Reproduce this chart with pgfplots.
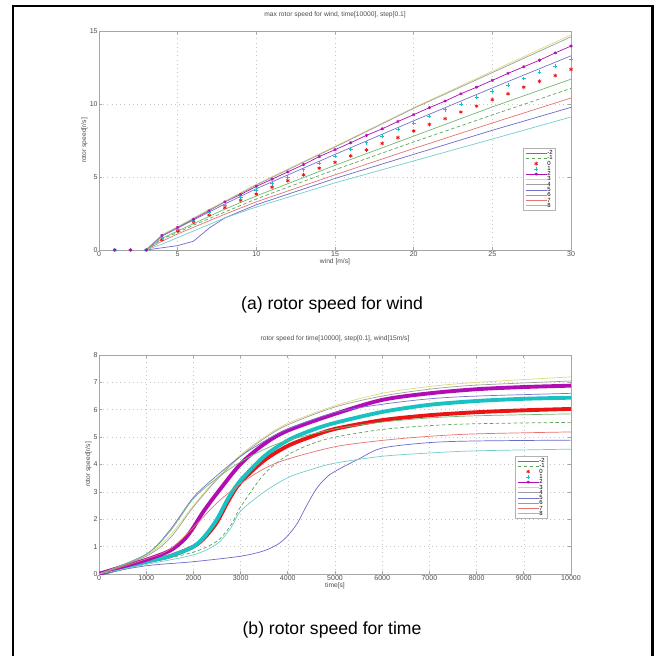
\documentclass[border=0pt]{standalone}
\usepackage{fontspec}
\setmainfont{Liberation Sans}
\setsansfont{Liberation Sans}
\usepackage{pgfplots}
\pgfplotsset{compat=1.18}

\definecolor{cA}{rgb}{0.42,0.42,0.80}  % -2
\definecolor{cB}{rgb}{0.35,0.65,0.35}  % -1
\definecolor{cC}{rgb}{0.92,0.08,0.08}  % 0
\definecolor{cD}{rgb}{0.10,0.76,0.76}  % 1
\definecolor{cE}{rgb}{0.70,0.05,0.70}  % 2
\definecolor{cF}{rgb}{0.86,0.86,0.50}  % 3
\definecolor{cG}{rgb}{0.62,0.62,0.62}  % 4
\definecolor{cH}{rgb}{0.45,0.45,0.82}  % 5
\definecolor{cI}{rgb}{0.45,0.72,0.45}  % 6
\definecolor{cJ}{rgb}{0.90,0.45,0.45}  % 7
\definecolor{cK}{rgb}{0.45,0.80,0.80}  % 8

\pgfplotsset{
  rotor/.style={
    scale only axis, width=9.44cm, height=4.38cm, anchor=south west,
    axis line style={gray!70, line width=0.5pt},
    grid=major, grid style={dotted, gray!45, line width=0.3pt},
    tick style={gray!70, line width=0.4pt}, major tick length=0.06cm,
    tick align=inside,
    tick label style={font=\fontsize{4}{4}\selectfont, text=black!70},
    /pgf/number format/assume math mode=true,
    /pgf/number format/1000 sep={},
    xticklabel style={inner sep=0.6pt}, yticklabel style={inner sep=0.6pt},
    label style={font=\fontsize{3.8}{4}\selectfont, text=black!70},
    xlabel style={inner sep=0.5pt}, ylabel style={inner sep=0.5pt},
    title style={font=\fontsize{3.8}{4}\selectfont, inner sep=1pt, text=black!70},
    legend cell align=left,
    legend style={font=\fontsize{3.4}{3.4}\selectfont, draw=gray!60, line width=0.4pt,
      inner xsep=1.2pt, inner ysep=1.2pt, row sep=0pt,
      nodes={inner sep=0.2pt, text height=2.2pt, text depth=0.4pt}},
    legend image code/.code={\draw[mark repeat=2,mark phase=2,#1]
      plot coordinates {(0cm,0cm) (0.21cm,0cm) (0.42cm,0cm)};},
    every axis plot/.append style={line width=0.4pt},
  },
  mdash/.style={dash pattern=on 2pt off 1.4pt},
}

\begin{document}
\begin{tikzpicture}
\useasboundingbox (0,0) rectangle (13.14,13.10);
\draw[line width=1.7pt] (0.26,-0.3) -- (0.26,12.98) -- (13.04,12.98) -- (13.04,-0.3);

% (a) rotor speed for wind
\begin{axis}[rotor, at={(1.98cm,8.10cm)},
  xmin=0, xmax=30, ymin=0, ymax=15,
  xtick={0,5,...,30}, ytick={0,5,10,15},
  title={max rotor speed for wind, time[10000], step[0.1]},
  xlabel={wind [m/s]}, ylabel={rotor speed[r/s]},
  legend style={at={(0.898,0.466)}, anchor=north west}]
\addplot[cA] coordinates {(3,0) (4,0.15) (5,0.3) (6,0.6) (7,1.5) (8,2.2) (10,3.1) (15,4.9) (20,6.55) (25,8.2) (30,9.77)};
\addplot[cB, mdash] coordinates {(3,0) (4,0.75) (5,1.2) (6,1.7) (8,2.6) (10,3.5) (15,5.5) (20,7.4) (25,9.25) (30,11.07)};
\addplot[cC, only marks, mark=asterisk, mark size=1.1pt] coordinates {
  (1,0) (2,0) (3,0) (4,0.7) (5,1.3) (6,1.9) (7,2.4) (8,2.9) (9,3.4) (10,3.83)
  (11,4.3) (12,4.75) (13,5.15) (14,5.6) (15,6.0) (16,6.45) (17,6.85) (18,7.3) (19,7.7) (20,8.15)
  (21,8.6) (22,9.0) (23,9.45) (24,9.85) (25,10.3) (26,10.7) (27,11.15) (28,11.55) (29,11.95) (30,12.37)};
\addplot[cD, only marks, mark=+, mark size=1.1pt] coordinates {
  (1,0) (2,0) (3,0) (4,0.85) (5,1.4) (6,2.0) (7,2.55) (8,3.05) (9,3.6) (10,4.1)
  (11,4.55) (12,5.0) (13,5.5) (14,5.95) (15,6.42) (16,6.9) (17,7.35) (18,7.8) (19,8.25) (20,8.68)
  (21,9.15) (22,9.6) (23,10.0) (24,10.45) (25,10.9) (26,11.3) (27,11.75) (28,12.2) (29,12.6) (30,13.06)};
\addplot[cE, mark=asterisk, mark size=0.9pt] coordinates {
  (3,0) (4,1.0) (5,1.55) (6,2.1) (7,2.7) (8,3.3) (9,3.8) (10,4.36)
  (11,4.85) (12,5.35) (13,5.85) (14,6.4) (15,6.87) (16,7.35) (17,7.85) (18,8.3) (19,8.8) (20,9.27)
  (21,9.75) (22,10.2) (23,10.7) (24,11.15) (25,11.62) (26,12.1) (27,12.55) (28,13.0) (29,13.5) (30,13.97)};
\addplot[cF] coordinates {(3,0) (4,1.05) (5,1.6) (6,2.2) (8,3.35) (10,4.5) (15,7.1) (20,9.75) (25,12.25) (30,14.73)};
\addplot[cG] coordinates {(3,0) (4,1.0) (5,1.55) (6,2.15) (8,3.3) (10,4.45) (15,7.05) (20,9.7) (25,12.15) (30,14.6)};
\addplot[cH] coordinates {(3,0) (4,0.95) (5,1.5) (6,2.05) (8,3.15) (10,4.2) (15,6.55) (20,8.85) (25,11.1) (30,13.3)};
\addplot[cI] coordinates {(3,0) (4,0.8) (5,1.3) (6,1.8) (8,2.8) (10,3.7) (15,5.8) (20,7.8) (25,9.8) (30,11.7)};
\addplot[cJ] coordinates {(3,0) (4,0.6) (5,1.1) (6,1.55) (8,2.45) (10,3.3) (15,5.15) (20,6.95) (25,8.7) (30,10.41)};
\addplot[cK] coordinates {(3,0) (4,0.4) (5,0.85) (6,1.3) (8,2.2) (10,2.95) (15,4.6) (20,6.1) (25,7.6) (30,9.11)};
\addplot[cE, only marks, mark=asterisk, mark size=0.9pt, forget plot] coordinates {(1,0) (2,0)};
\legend{-2,-1,0,1,2,3,4,5,6,7,8}
\end{axis}

% (b) rotor speed for time
\begin{axis}[rotor, at={(1.98cm,1.62cm)},
  xmin=0, xmax=10000, ymin=0, ymax=8,
  xtick={0,1000,...,10000}, ytick={0,1,...,8}, scaled x ticks=false,
  title={rotor speed for time[10000], step[0.1], wind[15m/s]},
  xlabel={time[s]}, ylabel={rotor speed[r/s]},
  legend style={at={(0.881,0.539)}, anchor=north west}]
\addplot[cA, smooth, forget plot] coordinates {(0,0) (1000,0.3) (2000,0.45) (3000,0.65) (3500,0.85) (3800,1.1) (4000,1.4) (4200,1.85) (4400,2.5) (4600,3.1) (4800,3.5) (5000,3.75) (5500,4.2) (6000,4.6) (7000,4.8) (8000,4.86) (10000,4.89)};
\addplot[cB, mdash, smooth, forget plot] coordinates {(0,0) (1000,0.4) (2000,0.8) (2500,1.2) (2800,1.8) (3000,2.45) (3500,3.65) (4000,4.35) (4500,4.75) (5000,5.0) (6000,5.28) (7000,5.42) (8000,5.49) (10000,5.54)};
\addplot[cC, line width=2.2pt, smooth, forget plot] coordinates {(0,0) (1000,0.45) (1500,0.65) (2000,1.0) (2250,1.35) (2500,1.9) (2750,2.7) (3000,3.35) (3500,4.15) (4000,4.68) (4500,5.02) (5000,5.3) (6000,5.62) (7000,5.8) (8000,5.91) (9000,5.98) (10000,6.03)};
\addplot[cD, line width=2.2pt, smooth, forget plot] coordinates {(0,0) (1000,0.45) (1500,0.65) (2000,1.0) (2250,1.4) (2500,2.0) (2750,2.8) (3000,3.42) (3500,4.3) (4000,4.88) (4500,5.25) (5000,5.52) (6000,5.92) (7000,6.18) (8000,6.32) (9000,6.4) (10000,6.44)};
\addplot[cE, line width=2.2pt, smooth, forget plot] coordinates {(0,0) (500,0.27) (1000,0.52) (1500,0.85) (1800,1.25) (2000,1.7) (2200,2.25) (2500,2.95) (3000,4.02) (3500,4.75) (4000,5.24) (5000,5.85) (6000,6.36) (7000,6.6) (8000,6.75) (9000,6.83) (10000,6.88)};
\addplot[cF, smooth, forget plot] coordinates {(0,0) (1000,0.68) (1500,1.4) (2000,2.5) (2500,3.5) (3000,4.35) (3500,5.0) (4000,5.5) (5000,6.15) (6000,6.6) (7000,6.85) (8000,7.0) (10000,7.2)};
\addplot[cG, smooth, forget plot] coordinates {(0,0) (1000,0.65) (1500,1.3) (2000,2.45) (2500,3.45) (3000,4.3) (3500,4.95) (4000,5.45) (5000,6.1) (6000,6.5) (7000,6.75) (8000,6.9) (10000,7.05)};
\addplot[cH, smooth, forget plot] coordinates {(0,0) (1000,0.72) (1500,1.6) (2000,2.8) (2500,3.6) (3000,4.3) (3500,4.85) (4000,5.3) (5000,5.9) (6000,6.2) (7000,6.4) (8000,6.5) (10000,6.6)};
\addplot[cI, smooth, forget plot] coordinates {(0,0) (1000,0.72) (1500,1.55) (2000,2.75) (2500,3.5) (3000,4.1) (3500,4.55) (4000,4.88) (5000,5.3) (6000,5.55) (7000,5.7) (8000,5.78) (10000,5.85)};
\addplot[cJ, smooth, forget plot] coordinates {(0,0) (1000,0.55) (1500,0.9) (2000,1.7) (2500,2.6) (3000,3.3) (3500,3.85) (4000,4.2) (5000,4.65) (6000,4.88) (7000,5.03) (8000,5.12) (10000,5.19)};
\addplot[cK, smooth, forget plot] coordinates {(0,0) (1000,0.35) (2000,0.7) (2500,1.1) (2800,1.7) (3000,2.3) (3500,3.0) (4000,3.52) (4500,3.82) (5000,4.05) (6000,4.3) (7000,4.42) (8000,4.5) (10000,4.56)};
\addlegendimage{cA}
\addlegendimage{cB, mdash}
\addlegendimage{cC, only marks, mark=asterisk, mark size=1pt}
\addlegendimage{cD, only marks, mark=+, mark size=1.1pt}
\addlegendimage{cE, mark=asterisk, mark size=0.9pt}
\addlegendimage{cF}
\addlegendimage{cG}
\addlegendimage{cH}
\addlegendimage{cI}
\addlegendimage{cJ}
\addlegendimage{cK}
\legend{-2,-1,0,1,2,3,4,5,6,7,8}
\end{axis}

\node[font=\fontsize{10}{12}\selectfont] at (6.64,7.00) {(a) rotor speed for wind};
\node[font=\fontsize{10}{12}\selectfont] at (6.64,0.50) {(b) rotor speed for time};
\end{tikzpicture}
\end{document}
